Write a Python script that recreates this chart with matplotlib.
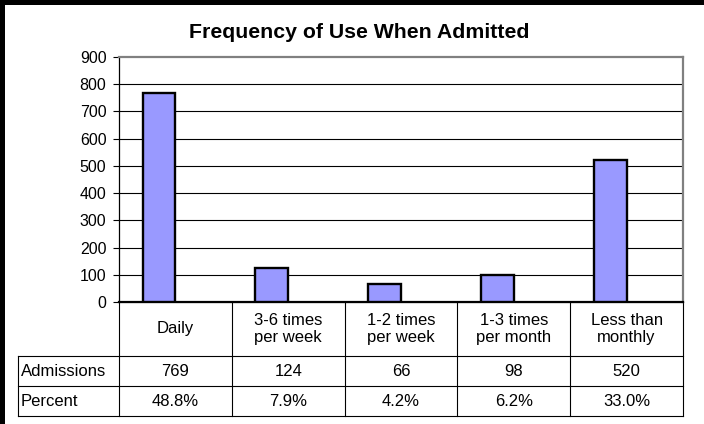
import matplotlib
matplotlib.use("Agg")
import matplotlib.pyplot as plt
from matplotlib.transforms import blended_transform_factory
from matplotlib.patches import Rectangle

plt.rcParams['font.family'] = ['Liberation Sans', 'DejaVu Sans']

categories = ["Daily", "3-6 times\nper week", "1-2 times\nper week", "1-3 times\nper month", "Less than\nmonthly"]
admissions = [769, 124, 66, 98, 520]
percents = [48.8, 7.9, 4.2, 6.2, 33.0]
yticks = [0, 100, 200, 300, 400, 500, 600, 700, 800, 900]
title = "Frequency of Use When Admitted"
row_labels = ["Admissions", "Percent"]

W, H = 704, 424
fig = plt.figure(figsize=(W / 100, H / 100), dpi=100)
fig.patch.set_facecolor("white")

def fx(px):
    return px / W

def fy(py):
    return 1 - py / H

ax_l, ax_r, ax_t, ax_b = 119, 683, 57, 302
ax = fig.add_axes([fx(ax_l), fy(ax_b), fx(ax_r - ax_l), (ax_b - ax_t) / H])
n = len(categories)
ax.set_xlim(-0.5, n - 0.5)
ax.set_ylim(0, 900)
ax.set_yticks(yticks)
ax.set_xticks([])
ax.tick_params(axis='y', direction='out', length=4, width=0.8, pad=5, labelsize=11.5, colors='black')
for y in yticks[1:-1]:
    ax.axhline(y, color='black', lw=0.8, zorder=1)
for s in ['top', 'right']:
    ax.spines[s].set_color('#808080')
    ax.spines[s].set_linewidth(1.6)
ax.spines['left'].set_color('black')
ax.spines['left'].set_linewidth(0.9)
ax.spines['bottom'].set_color('black')
ax.spines['bottom'].set_linewidth(1.6)

bw = 0.29
xs = [i - bw / 2 for i in range(n)]
ax.bar(xs, admissions, width=bw, color='#9999FF', edgecolor='black', linewidth=1.7, zorder=3)

# title
fig.text(fx(359.5), fy(32), title, ha='center', va='center', fontsize=15.3, fontweight='bold')

# data table
tr = blended_transform_factory(ax.transData, fig.transFigure)
rows_y = [302, 356, 386, 416]
x_hdr = -0.5 - (ax_l - 18) / ((ax_r - ax_l) / n)
line_kw = dict(transform=tr, color='black', lw=0.8, clip_on=False)
ax.plot([-0.5, n - 0.5], [fy(rows_y[0])] * 2, **line_kw)
for ry in rows_y[1:]:
    ax.plot([x_hdr, n - 0.5], [fy(ry)] * 2, **line_kw)
for i in range(n + 1):
    xb = i - 0.5
    ax.plot([xb, xb], [fy(rows_y[0]), fy(rows_y[-1])], **line_kw)
ax.plot([x_hdr, x_hdr], [fy(rows_y[1]), fy(rows_y[-1])], **line_kw)

fs = 12
for i, c in enumerate(categories):
    ax.text(i, fy((rows_y[0] + rows_y[1]) / 2), c, transform=tr, ha='center', va='center',
            fontsize=fs, linespacing=1.15)
    ax.text(i, fy((rows_y[1] + rows_y[2]) / 2), f"{admissions[i]}", transform=tr, ha='center', va='center', fontsize=fs)
    ax.text(i, fy((rows_y[2] + rows_y[3]) / 2), f"{percents[i]:.1f}%", transform=tr, ha='center', va='center', fontsize=fs)
for j, lab in enumerate(row_labels):
    fig.text(fx(21), fy((rows_y[j + 1] + rows_y[j + 2]) / 2), lab, ha='left', va='center', fontsize=fs)

# black frame at top and left only
fig.add_artist(Rectangle((0, fy(5)), 1, 5 / H, transform=fig.transFigure,
                         facecolor='black', edgecolor='none', linewidth=0, zorder=10))
fig.add_artist(Rectangle((0, 0), fx(5), 1, transform=fig.transFigure,
                         facecolor='black', edgecolor='none', linewidth=0, zorder=10))

fig.savefig("out.png", dpi=100, facecolor='white')
